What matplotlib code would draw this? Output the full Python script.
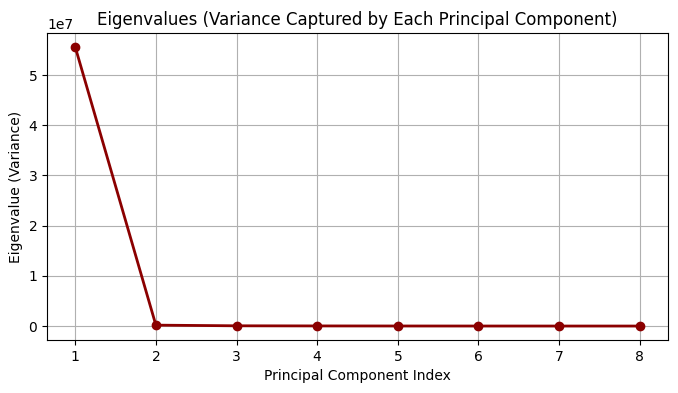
import matplotlib
matplotlib.use("Agg")
import matplotlib.pyplot as plt

components = [1, 2, 3, 4, 5, 6, 7, 8]
eigenvalues = [5.56e7, 1.8e5, 5.0e4, 2.5e4, 1.2e4, 6.0e3, 3.0e3, 1.0e3]

fig = plt.figure(figsize=(6.78, 3.93), dpi=100)
ax = fig.add_axes([47/678, 1 - 340/393, (668-47)/678, (340-33)/393])
ax.plot(components, eigenvalues, marker='o', color='darkred', linewidth=2)
ax.set_title("Eigenvalues (Variance Captured by Each Principal Component)")
ax.set_xlabel("Principal Component Index")
ax.set_ylabel("Eigenvalue (Variance)")
ax.set_xticks(components)
ax.grid(True)
fig.savefig("out.png", dpi=100)
